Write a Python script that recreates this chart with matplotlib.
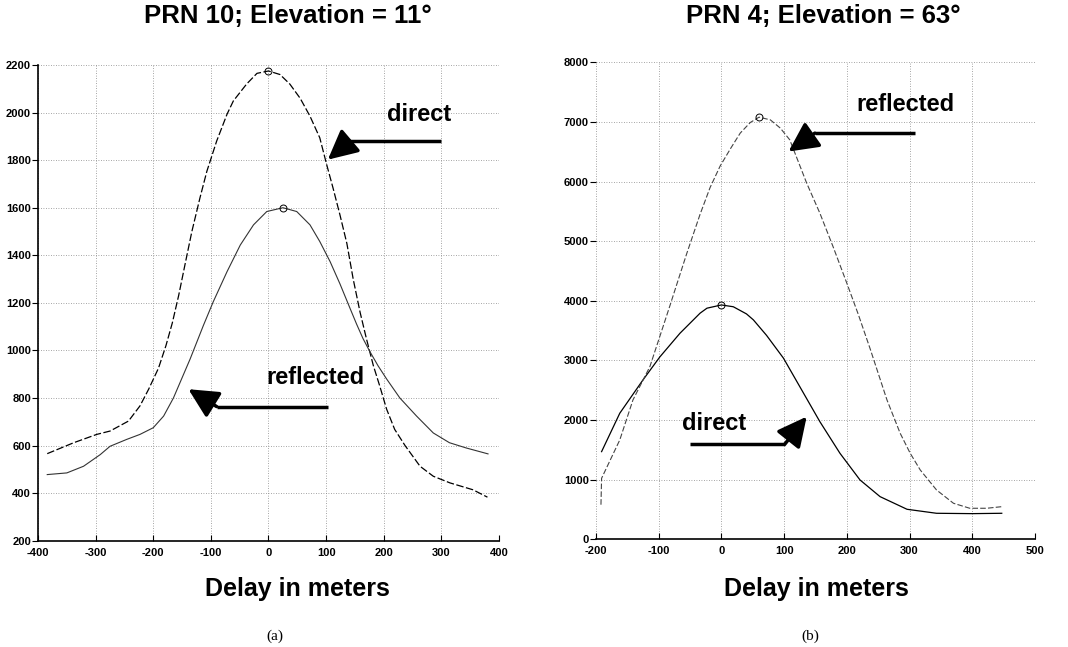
import matplotlib
matplotlib.use("Agg")
import matplotlib.pyplot as plt

# ---- panel (a): PRN 10, elevation 11 deg ----
a_direct_x = [-384, -338, -298, -275, -243, -223, -208, -191, -178, -167, -156, -145, -133,
              -119, -107, -90, -72, -61, -38, -20, 0, 20, 37, 55, 72, 89, 101, 112, 124,
              136, 147, 159, 170, 182, 193, 205, 219, 237, 263, 286, 315, 355, 380]
a_direct_y = [566, 612, 647, 661, 703, 767, 837, 925, 1020, 1115, 1230, 1360, 1500,
              1641, 1753, 1880, 1993, 2049, 2120, 2165, 2175, 2160, 2120, 2060, 1985, 1894,
              1781, 1683, 1570, 1450, 1300, 1160, 1049, 936, 851, 753, 668, 600, 513, 471,
              443, 414, 383]
a_direct_peak = (0, 2175)

a_refl_x = [-384, -350, -321, -292, -275, -246, -223, -200, -182, -165, -136, -113, -96,
            -72, -49, -26, -3, 25, 49, 72, 89, 107, 124, 141, 153, 164, 176, 190, 205,
            228, 257, 286, 314, 343, 381]
a_refl_y = [478, 485, 513, 562, 597, 626, 647, 675, 724, 800, 964, 1105, 1204,
            1331, 1443, 1528, 1584, 1600, 1584, 1528, 1458, 1373, 1280, 1180, 1110, 1050,
            995, 936, 880, 800, 724, 653, 612, 590, 565]
a_refl_peak = (25, 1600)

# ---- panel (b): PRN 4, elevation 63 deg ----
b_direct_x = [-191, -162, -125, -98, -66, -34, -23, 0, 19, 40, 51, 72, 99, 131, 157, 189,
              221, 253, 296, 343, 400, 447]
b_direct_y = [1470, 2114, 2673, 3060, 3456, 3792, 3876, 3930, 3900, 3780, 3680, 3420, 3037,
              2450, 1973, 1443, 995, 715, 503, 436, 430, 436]
b_direct_peak = (0, 3930)

b_refl_x = [-192, -191, -162, -141, -114, -93, -82, -71, -55, -34, -18, -2, 15, 30, 46,
            60, 78, 94, 109, 136, 157, 178, 200, 218, 237, 264, 285, 301, 317, 343, 370,
            396, 423, 447]
b_refl_y = [580, 1023, 1666, 2337, 2896, 3567, 3920, 4280, 4800, 5450, 5900, 6260, 6560,
            6812, 6990, 7080, 7035, 6896, 6700, 5973, 5470, 4909, 4295, 3780, 3200, 2337,
            1779, 1443, 1163, 827, 604, 520, 520, 547]
b_refl_peak = (60, 7080)

a_xticks = [-400, -300, -200, -100, 0, 100, 200, 300, 400]
a_yticks = [200, 400, 600, 800, 1000, 1200, 1400, 1600, 1800, 2000, 2200]
b_xticks = [-200, -100, 0, 100, 200, 300, 400, 500]
b_yticks = [0, 1000, 2000, 3000, 4000, 5000, 6000, 7000, 8000]

plt.rcParams['font.family'] = ['Liberation Sans', 'DejaVu Sans']
plt.rcParams['axes.unicode_minus'] = False

fig = plt.figure(figsize=(10.68, 6.47), dpi=100)
ax1 = fig.add_axes([0.0356, 0.1643, 0.4316, 0.7352])
ax2 = fig.add_axes([0.558, 0.1665, 0.4111, 0.7372])


def style_axes(ax, xticks, yticks, left_spine=True):
    ax.set_xlim(xticks[0], xticks[-1])
    ax.set_ylim(yticks[0], yticks[-1])
    ax.set_xticks(xticks)
    ax.set_yticks(yticks)
    ax.grid(True, linestyle=(0, (1, 2)), color='#888888', linewidth=0.6)
    ax.spines['top'].set_visible(False)
    ax.spines['right'].set_visible(False)
    ax.spines['left'].set_visible(left_spine)
    ax.spines['bottom'].set_linewidth(1.2)
    ax.spines['left'].set_linewidth(1.2)
    ax.tick_params(axis='x', direction='in', length=4, pad=5)
    ax.tick_params(axis='y', direction='out', length=4, pad=1)
    for lab in ax.get_xticklabels() + ax.get_yticklabels():
        lab.set_fontsize(8)
        lab.set_fontweight('bold')


def arrow(ax, tail, elbow, tip):
    ax.plot([tail[0], elbow[0]], [tail[1], elbow[1]], color='k', lw=2.5,
            solid_capstyle='butt')
    ax.annotate('', xy=tip, xytext=elbow,
                arrowprops=dict(arrowstyle='-|>,head_length=0.9,head_width=0.45',
                                color='k', lw=2.5, shrinkA=0, shrinkB=0,
                                mutation_scale=20))


# panel (a)
ax1.plot(a_direct_x, a_direct_y, color='k', lw=0.9, linestyle=(0, (6, 2)))
ax1.plot(a_refl_x, a_refl_y, color='#333333', lw=0.8)
ax1.plot(*a_direct_peak, 'o', mfc='none', mec='k', ms=5, mew=0.7)
ax1.plot(*a_refl_peak, 'o', mfc='none', mec='k', ms=5, mew=0.7)
style_axes(ax1, a_xticks, a_yticks)
ax1.text(262, 1991, 'direct', fontsize=17, fontweight='bold', ha='center', va='center')
arrow(ax1, (300, 1880), (141, 1880), (103, 1802))
ax1.text(81, 888, 'reflected', fontsize=17, fontweight='bold', ha='center', va='center')
arrow(ax1, (104, 764), (-90, 764), (-139, 837))

# panel (b)
ax2.plot(b_direct_x, b_direct_y, color='k', lw=0.9)
ax2.plot(b_refl_x, b_refl_y, color='#444444', lw=0.8, linestyle=(0, (5, 2)))
ax2.plot(*b_direct_peak, 'o', mfc='none', mec='k', ms=5, mew=0.7)
ax2.plot(*b_refl_peak, 'o', mfc='none', mec='k', ms=5, mew=0.7)
style_axes(ax2, b_xticks, b_yticks, left_spine=False)
ax2.text(293, 7287, 'reflected', fontsize=17, fontweight='bold', ha='center', va='center')
arrow(ax2, (309, 6812), (149, 6812), (107, 6503))
ax2.text(-12, 1934, 'direct', fontsize=17, fontweight='bold', ha='center', va='center')
arrow(ax2, (-50, 1594), (101, 1594), (136, 2057))

# titles, axis labels and captions
fig.text(0.2697, 0.975, 'PRN 10; Elevation = 11°', fontsize=18.5, fontweight='bold',
         ha='center', va='center')
fig.text(0.7706, 0.975, 'PRN 4; Elevation = 63°', fontsize=18.5, fontweight='bold',
         ha='center', va='center')
fig.text(0.2786, 0.0897, 'Delay in meters', fontsize=18, fontweight='bold',
         ha='center', va='center')
fig.text(0.764, 0.0897, 'Delay in meters', fontsize=18, fontweight='bold',
         ha='center', va='center')
fig.text(0.2575, 0.017, '(a)', fontsize=11, family='Liberation Serif',
         ha='center', va='center')
fig.text(0.7584, 0.017, '(b)', fontsize=11, family='Liberation Serif',
         ha='center', va='center')

fig.savefig('out.png', dpi=100)
